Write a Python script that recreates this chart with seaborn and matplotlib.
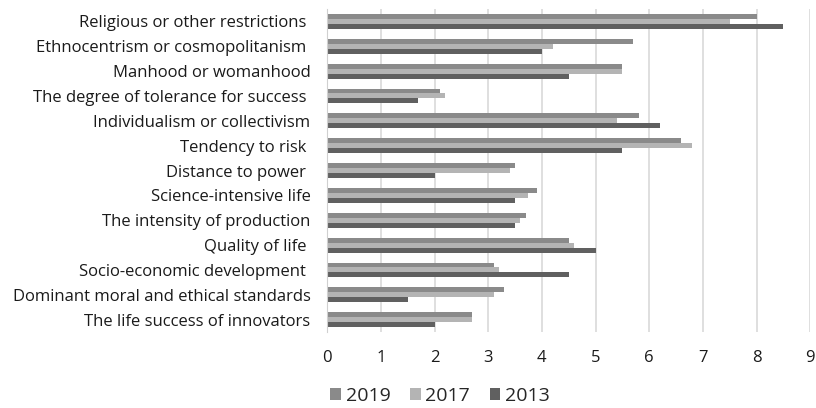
import pandas as pd
import matplotlib.pyplot as plt
import seaborn as sns

categories = [
    "Religious or other restrictions ",
    "Ethnocentrism or cosmopolitanism ",
    "Manhood or womanhood",
    "The degree of tolerance for success ",
    "Individualism or collectivism",
    "Tendency to risk ",
    "Distance to power ",
    "Science-intensive life",
    "The intensity of production",
    "Quality of life ",
    "Socio-economic development ",
    "Dominant moral and ethical standards",
    "The life success of innovators",
]
years = ["2019", "2017", "2013"]
values_2019 = [8.0, 5.7, 5.5, 2.1, 5.8, 6.6, 3.5, 3.9, 3.7, 4.5, 3.1, 3.3, 2.7]
values_2017 = [7.5, 4.2, 5.5, 2.2, 5.4, 6.8, 3.4, 3.75, 3.6, 4.6, 3.2, 3.1, 2.7]
values_2013 = [8.5, 4.0, 4.5, 1.7, 6.2, 5.5, 2.0, 3.5, 3.5, 5.0, 4.5, 1.5, 2.0]
colors = ["#8a8a8a", "#b4b4b4", "#606060"]

df = pd.DataFrame({
    "factor": categories * 3,
    "year": sum([[y] * len(categories) for y in years], []),
    "value": values_2019 + values_2017 + values_2013,
})

sns.set_style("white")
plt.rcParams["font.family"] = ["Open Sans", "DejaVu Sans"]

fig, ax = plt.subplots(figsize=(8.16, 4.08), dpi=100)
fig.subplots_adjust(left=0.401, right=0.993, top=0.978, bottom=0.186)

sns.barplot(data=df, y="factor", x="value", hue="year", hue_order=years,
            order=categories, palette=colors, orient="h", width=0.6,
            saturation=1, linewidth=0, ax=ax)

ax.set_xlim(0, 9)
ax.set_xticks(range(10))
ax.set_xlabel("")
ax.set_ylabel("")
ax.xaxis.grid(True, color="#d9d9d9", linewidth=1.2)
ax.set_axisbelow(True)
for side in ["top", "right", "bottom"]:
    ax.spines[side].set_visible(False)
ax.spines["left"].set_color("#d0d0d0")
ax.tick_params(axis="y", length=0, pad=12, labelsize=12, labelcolor="#1a1a1a")
ax.tick_params(axis="x", length=0, pad=13, labelsize=12, labelcolor="#1a1a1a")

ax.legend(loc="center", bbox_to_anchor=(440 / 816, 12 / 408),
          bbox_transform=fig.transFigure, ncol=3, frameon=False,
          fontsize=14, handlelength=0.55, handleheight=0.55, handletextpad=0.25,
          columnspacing=1.0, borderpad=0)

fig.savefig("out.png", dpi=100)
